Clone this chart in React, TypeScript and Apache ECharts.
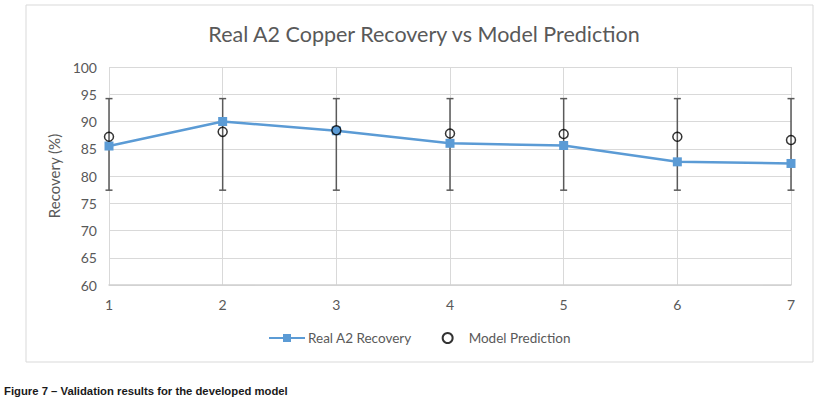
import React, { useEffect, useRef } from "react";
import * as echarts from "echarts";

const xValues = [1, 2, 3, 4, 5, 6, 7];
const realRecovery = [85.5, 90.0, 88.3, 86.0, 85.6, 82.6, 82.3];
const modelPrediction = [87.2, 88.1, 88.4, 87.8, 87.7, 87.2, 86.6];
const errorLow = [77.4, 77.4, 77.4, 77.4, 77.4, 77.4, 77.4];
const errorHigh = [94.2, 94.2, 94.2, 94.2, 94.2, 94.2, 94.2];

const FONT = "Lato";
const TXT = "#595959";

export default function App() {
  const ref = useRef<HTMLDivElement>(null);
  useEffect(() => {
    if (!ref.current) return;
    const chart = echarts.init(ref.current, null, { renderer: "svg" });
    const errData = xValues.map((x, i) => [x, errorLow[i], errorHigh[i]]);
    chart.setOption({
      animation: false,
      backgroundColor: "#ffffff",
      textStyle: { fontFamily: FONT },
      title: {
        text: "Real A2 Copper Recovery vs Model Prediction",
        left: 419,
        textAlign: "center",
        top: 18,
        textStyle: { fontFamily: FONT, fontSize: 21.5, fontWeight: "normal", color: TXT },
      },
      grid: { left: 109, right: 26, top: 67, bottom: 116 },
      xAxis: {
        type: "value",
        min: 1,
        max: 7,
        interval: 1,
        axisLine: { show: true, lineStyle: { color: "#d0d0d0", width: 1.5 } },
        axisTick: { show: false },
        axisLabel: { color: TXT, fontSize: 14, fontFamily: FONT, margin: 12 },
        splitLine: { show: true, lineStyle: { color: "#d9d9d9", width: 1 } },
      },
      yAxis: {
        type: "value",
        min: 60,
        max: 100,
        interval: 5,
        name: "Recovery (%)",
        nameLocation: "middle",
        nameGap: 32,
        nameTextStyle: { color: TXT, fontSize: 15, fontFamily: FONT },
        axisLine: { show: false },
        axisTick: { show: false },
        axisLabel: { color: TXT, fontSize: 14, fontFamily: FONT, margin: 12 },
        splitLine: { show: true, lineStyle: { color: "#d9d9d9", width: 1 } },
      },
      legend: {
        top: 326,
        left: 263,
        itemGap: 30,
        itemWidth: 36,
        itemHeight: 10,
        textStyle: { color: TXT, fontSize: 13.5, fontFamily: FONT, padding: [0, 0, 0, -2] },
        data: ["Real A2 Recovery", "Model Prediction"],
      },
      series: [
        {
          type: "custom",
          name: "err",
          z: 1,
          renderItem: (params: any, api: any) => {
            const x = api.value(0);
            const lo = api.coord([x, api.value(1)]);
            const hi = api.coord([x, api.value(2)]);
            const cap = 3.5;
            const style = { stroke: "#5a5a5a", lineWidth: 1.5 };
            return {
              type: "group",
              children: [
                { type: "line", shape: { x1: lo[0], y1: lo[1], x2: hi[0], y2: hi[1] }, style },
                { type: "line", shape: { x1: lo[0] - cap, y1: lo[1], x2: lo[0] + cap, y2: lo[1] }, style },
                { type: "line", shape: { x1: hi[0] - cap, y1: hi[1], x2: hi[0] + cap, y2: hi[1] }, style },
              ],
            };
          },
          data: errData,
          encode: { x: 0, y: [1, 2] },
        },
        {
          type: "line",
          name: "Real A2 Recovery",
          z: 2,
          data: xValues.map((x, i) => [x, realRecovery[i]]),
          symbol: "rect",
          symbolSize: 9,
          lineStyle: { color: "#5B9BD5", width: 2.5 },
          itemStyle: { color: "#5B9BD5" },
        },
        {
          type: "scatter",
          name: "Model Prediction",
          z: 3,
          data: xValues.map((x, i) => [x, modelPrediction[i]]),
          symbol: "circle",
          symbolSize: 9,
          itemStyle: { color: "rgba(255,255,255,0)", borderColor: "#000000", borderWidth: 1.5 },
        },
      ],
      graphic: [
        {
          type: "rect",
          shape: { x: 26, y: 5, width: 787, height: 357 },
          style: { fill: "none", stroke: "#d9d9d9", lineWidth: 1 },
          silent: true,
        },
        {
          type: "text",
          left: 4,
          top: 385,
          style: {
            text: "Figure 7 – Validation results for the developed model",
            fill: "#1a1a1a",
            font: "bold 11.3px 'Liberation Sans Narrow', 'Liberation Sans', Arial",
          },
        },
      ],
    });
    return () => chart.dispose();
  }, []);
  return (
    <div
      ref={ref}
      style={{ position: "absolute", left: 0, top: 0, width: 817, height: 401 }}
    />
  );
}
